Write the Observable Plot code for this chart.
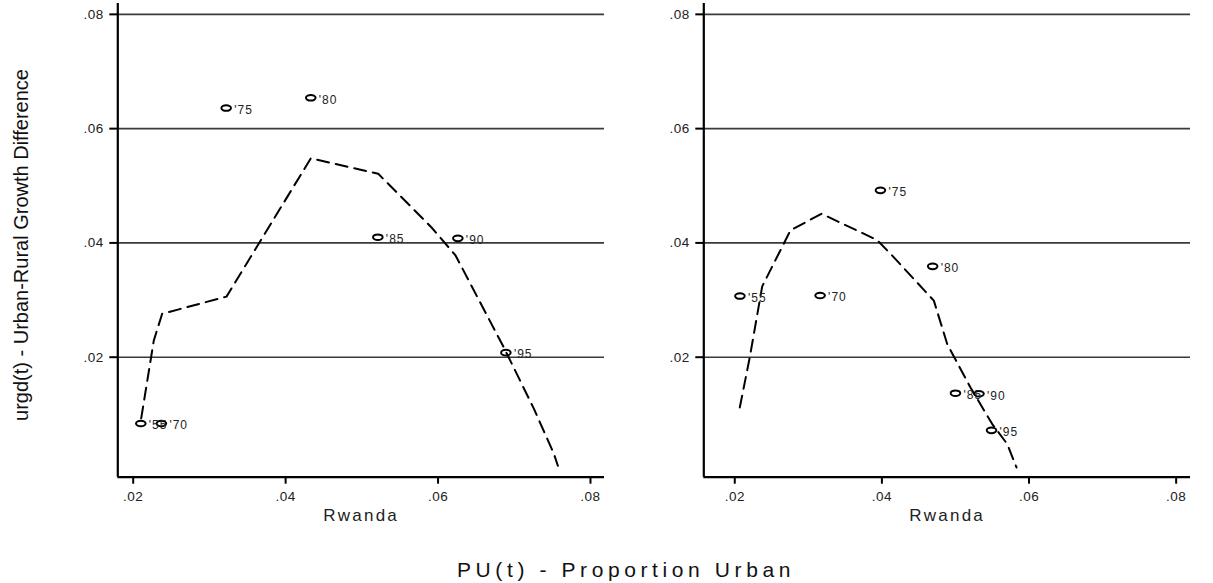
<!DOCTYPE html>
<html><head><meta charset="utf-8">
<script src="https://cdn.jsdelivr.net/npm/d3@7"></script>
<script src="https://cdn.jsdelivr.net/npm/@observablehq/plot@0.6"></script>
<style>
html,body{margin:0;padding:0;background:#fff;}
#wrap{position:relative;width:1213px;height:583px;overflow:hidden;font-family:"Liberation Sans",Arial,sans-serif;}
.panel{position:absolute;top:0;}
#ytitle{position:absolute;left:21px;top:245px;transform:translate(-50%,-50%) rotate(-90deg);white-space:nowrap;font-size:20px;line-height:20px;color:#111;}
#xtitle{position:absolute;left:457px;top:559px;white-space:nowrap;font-size:21px;line-height:21px;letter-spacing:4.6px;color:#111;}
</style></head><body>
<div id="wrap">
<div id="left" class="panel" style="left:0"></div>
<div id="right" class="panel" style="left:590px"></div>
<div id="ytitle">urgd(t) - Urban-Rural Growth Difference</div>
<div id="xtitle">PU(t) - Proportion Urban</div>
</div>
<script>
// ---- data ----
const countryName = "Rwanda";
const yTicks = [0.02, 0.04, 0.06, 0.08];
const xTicks = [0.02, 0.04, 0.06, 0.08];

// left panel
const yearsLeft = ["'55", "'70", "'75", "'80", "'85", "'90", "'95"];
const puLeft    = [0.0210, 0.0237, 0.0322, 0.0433, 0.0521, 0.0626, 0.0689];
const urgdLeft  = [0.0084, 0.0084, 0.0636, 0.0654, 0.0410, 0.0408, 0.0208];
const fitXLeft  = [0.02105, 0.0227, 0.0238, 0.03224, 0.0433, 0.05215, 0.05915, 0.0623, 0.06863, 0.07257, 0.0752, 0.07572];
const fitYLeft  = [0.0093, 0.0229, 0.0276, 0.0306, 0.0548, 0.0521, 0.0427, 0.0378, 0.0217, 0.0110, 0.0031, 0.0010];

// right panel
const yearsRight = ["'55", "'70", "'75", "'80", "'85", "'90", "'95"];
const puRight    = [0.0207, 0.0316, 0.0398, 0.0469, 0.0500, 0.0532, 0.0549];
const urgdRight  = [0.0307, 0.0308, 0.0492, 0.0359, 0.0137, 0.0136, 0.0072];
const fitXRight  = [0.02068, 0.02204, 0.02373, 0.02757, 0.03179, 0.03936, 0.04117, 0.04706, 0.04888, 0.05204, 0.0550, 0.05704, 0.0583];
const fitYRight  = [0.0112, 0.0200, 0.0324, 0.0422, 0.0451, 0.0405, 0.0381, 0.0299, 0.0223, 0.0147, 0.0083, 0.0048, 0.0007];

const yDomain = [-0.001, 0.0819];
const xDomainLeft = [0.01798, 0.08184];
const xDomainRight = [0.01579, 0.08195];

// ---- drawing ----
const fmt = d => d3.format(".2f")(d).replace(/^0/, "");
const ellipseSymbol = {
  draw(ctx) {
    const rx = 4.8, ry = 2.8, k = 0.5523;
    ctx.moveTo(rx, 0);
    ctx.bezierCurveTo(rx, ry * k, rx * k, ry, 0, ry);
    ctx.bezierCurveTo(-rx * k, ry, -rx, ry * k, -rx, 0);
    ctx.bezierCurveTo(-rx, -ry * k, -rx * k, -ry, 0, -ry);
    ctx.bezierCurveTo(rx * k, -ry, rx, -ry * k, rx, 0);
    ctx.closePath();
  }
};

function panel(years, pu, urgd, fitX, fitY, xDomain, width, marginLeft, marginRight) {
  const pts = years.map((y, i) => ({year: y, pu: pu[i], urgd: urgd[i]}));
  const fit = fitX.map((x, i) => ({pu: x, urgd: fitY[i]}));
  const svg = Plot.plot({
    width, height: 540, marginLeft, marginRight, marginTop: 3, marginBottom: 63.3,
    x: {domain: xDomain},
    y: {domain: yDomain},
    style: {fontFamily: "'Liberation Sans', Arial, sans-serif", fontSize: "13px", color: "#222", background: "transparent", overflow: "visible"},
    marks: [
      Plot.ruleY(yTicks, {stroke: "#3a3a3a", strokeWidth: 1.6}),
      Plot.axisY(yTicks, {anchor: "left", tickSize: 8, tickPadding: 6, tickFormat: fmt, stroke: "#000", strokeWidth: 2, fill: "#222", label: null, fontSize: 13}),
      Plot.axisX(xTicks, {anchor: "bottom", tickSize: 7, tickPadding: 7, tickFormat: fmt, stroke: "#000", strokeWidth: 2, fill: "#222", label: null, fontSize: 13}),
      Plot.ruleX([xDomain[0]], {stroke: "#000", strokeWidth: 2.2}),
      Plot.ruleY([yDomain[0]], {stroke: "#000", strokeWidth: 2.2}),
      Plot.line(fit, {x: "pu", y: "urgd", stroke: "#000", strokeWidth: 2, strokeDasharray: "12,7"}),
      Plot.dot(pts, {x: "pu", y: "urgd", symbol: ellipseSymbol, stroke: "#000", strokeWidth: 2, fill: "none"}),
      Plot.text(pts, {x: "pu", y: "urgd", text: "year", textAnchor: "start", dx: 8, dy: 2, fontSize: 12, fill: "#222"}),
      Plot.text([countryName], {frameAnchor: "bottom", dy: 44, fontSize: 17, fill: "#222"})
    ]
  });
  d3.select(svg).selectAll("text").each(function() {
    const t = this.textContent;
    const s = d3.select(this);
    if (t === countryName) s.style("letter-spacing", "2.2px").style("font-size", "17px");
    else if (t.startsWith("'")) s.style("letter-spacing", "1px").style("font-size", "12px");
    else if (t.startsWith(".")) s.style("font-size", "13.5px").style("letter-spacing", "0.5px");
  });
  return svg;
}

document.getElementById("left").append(panel(yearsLeft, puLeft, urgdLeft, fitXLeft, fitYLeft, xDomainLeft, 610, 117.3, 6));
document.getElementById("right").append(panel(yearsRight, puRight, urgdRight, fitXRight, fitYRight, xDomainRight, 623, 113.3, 23));
</script>
</body></html>
